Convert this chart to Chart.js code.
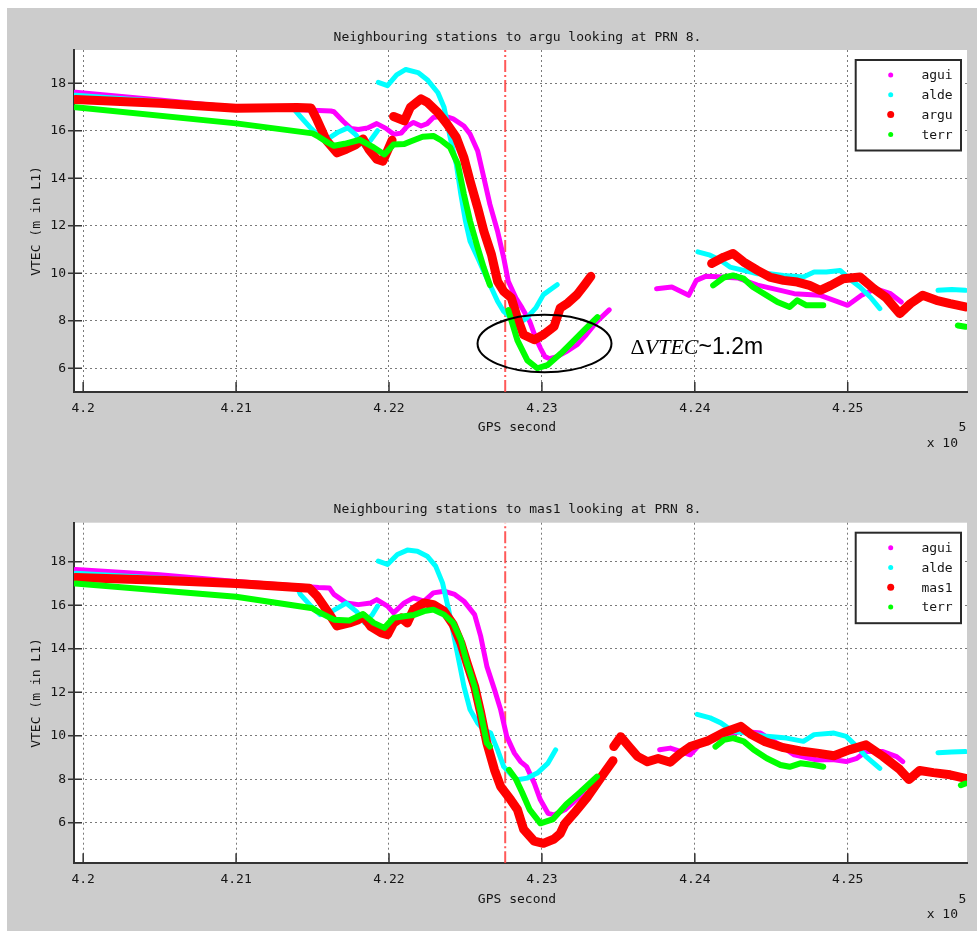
<!DOCTYPE html>
<html>
<head>
<meta charset="utf-8">
<title>Neighbouring stations VTEC, PRN 8</title>
<script src="https://cdn.jsdelivr.net/npm/chart.js@4.4.1/dist/chart.umd.min.js"></script>
<style>
  html, body { margin: 0; padding: 0; background: #ffffff; }
  #frame { position: absolute; left: 7px; top: 8px; width: 970px; height: 923px; background: #cccccc; }
  canvas { position: absolute; left: 0; }
  #argu { top: 0; }
  #mas1 { top: 465px; }
</style>
</head>
<body>
<div id="frame"></div>
<canvas id="argu" width="977" height="465"></canvas>
<canvas id="mas1" width="977" height="466"></canvas>
<script>
// axis setup (GPS seconds, labels shown in units of 1e5)
const X_MIN = 419940;
const X_MAX = 425780;
const X_TICKS = [420000, 421000, 422000, 423000, 424000, 425000];
const X_TICK_LABELS = ['4.2', '4.21', '4.22', '4.23', '4.24', '4.25'];
const Y_TICKS = [6, 8, 10, 12, 14, 16, 18];

// time of the event marker (dash-dot line)
const EVENT_TIME = 422760;

// [GPS second, VTEC] - null means no data
// --- argu panel ---
const arguAgui = [[419950,17.62],[420500,17.3],[421000,16.98],[421500,16.86],[421620,16.83],[421640,16.8],[421700,16.4],[421750,16.1],[421800,16.05],[421860,16.12],[421920,16.3],[421980,16.1],[422030,15.85],[422080,15.9],[422120,16.2],[422160,16.35],[422210,16.2],[422250,16.3],[422290,16.56],[422360,16.63],[422420,16.5],[422490,16.2],[422530,15.86],[422580,15.15],[422620,14.03],[422660,12.9],[422710,11.77],[422750,10.65],[422780,9.66],[422830,8.96],[422870,8.54],[422920,7.97],[422960,7.27],[422990,6.85],[423020,6.49],[423050,6.4],[423100,6.49],[423160,6.7],[423230,6.99],[423290,7.41],[423360,7.97],[423440,8.46],[423600,null],[423750,9.35],[423850,9.42],[423960,9.07],[424010,9.7],[424070,9.87],[424150,9.85],[424280,9.8],[424410,9.5],[424560,9.28],[424650,9.14],[424820,9.07],[424910,8.86],[425000,8.65],[425090,9.07],[425180,9.35],[425280,9.14],[425350,8.79]];
const arguAlde = [[419950,17.5],[421000,17.0],[421380,16.9],[421420,16.6],[421490,16.1],[421550,15.72],[421610,15.7],[421670,15.95],[421730,16.12],[421780,15.85],[421840,15.35],[421880,15.6],[421925,16.0],[421928,null],[421930,18.04],[421990,17.9],[422050,18.35],[422110,18.58],[422190,18.45],[422250,18.15],[422320,17.6],[422360,16.99],[422400,15.72],[422440,14.6],[422470,13.32],[422500,12.2],[422530,11.35],[422580,10.65],[422620,10.08],[422670,9.38],[422710,8.82],[422750,8.39],[422800,8.11],[422850,7.9],[422900,8.11],[422960,8.54],[423010,9.1],[423070,9.38],[423100,9.52],[423500,null],[424020,10.9],[424100,10.76],[424170,10.54],[424230,10.26],[424320,10.12],[424410,9.98],[424490,9.98],[424580,9.91],[424710,9.84],[424780,10.05],[424860,10.05],[424950,10.12],[425010,9.77],[425080,9.42],[425150,8.98],[425210,8.51],[425400,null],[425590,9.28],[425680,9.32],[425770,9.28]];
const arguArgu = [[419950,17.32],[420500,17.16],[421000,16.95],[421400,16.98],[421490,16.96],[421530,16.45],[421590,15.6],[421660,15.07],[421720,15.22],[421780,15.4],[421830,15.65],[421870,15.2],[421920,14.8],[421960,14.72],[421990,15.15],[422020,15.6],[422025,null],[422030,16.6],[422100,16.42],[422140,16.99],[422210,17.34],[422250,17.2],[422320,16.77],[422380,16.28],[422440,15.72],[422490,14.87],[422530,13.89],[422580,12.76],[422620,11.77],[422670,10.79],[422710,9.66],[422750,9.24],[422800,8.96],[422840,8.11],[422880,7.41],[422950,7.2],[423010,7.41],[423080,7.76],[423120,8.54],[423170,8.75],[423230,9.1],[423280,9.52],[423320,9.87],[423700,null],[424110,10.41],[424190,10.68],[424250,10.83],[424320,10.47],[424410,10.12],[424490,9.84],[424580,9.7],[424670,9.63],[424750,9.49],[424820,9.28],[424890,9.49],[424970,9.77],[425080,9.84],[425170,9.35],[425250,8.98],[425340,8.3],[425410,8.72],[425490,9.07],[425580,8.86],[425670,8.72],[425770,8.58]];
const arguTerr = [[419950,16.99],[421000,16.31],[421500,15.89],[421530,15.79],[421600,15.5],[421640,15.37],[421710,15.45],[421810,15.62],[421900,15.3],[421970,15.0],[422030,15.42],[422100,15.44],[422140,15.55],[422220,15.75],[422290,15.78],[422340,15.6],[422400,15.3],[422450,14.6],[422490,13.32],[422530,12.2],[422580,11.07],[422620,10.23],[422660,9.5],[422720,null],[422780,8.45],[422840,7.17],[422905,6.33],[422970,6.0],[423036,6.13],[423123,6.62],[423210,7.17],[423275,7.59],[423363,8.15],[423700,null],[424120,9.49],[424190,9.82],[424250,9.91],[424320,9.77],[424380,9.42],[424470,9.07],[424540,8.79],[424620,8.58],[424670,8.86],[424730,8.65],[424840,8.65],[425300,null],[425720,7.8],[425770,7.75]];

// --- mas1 panel ---
const mas1Agui = [[419950,17.65],[420500,17.4],[421000,17.1],[421540,16.82],[421610,16.8],[421640,16.5],[421720,16.11],[421800,16.03],[421880,16.11],[421920,16.26],[421990,15.96],[422030,15.65],[422100,16.11],[422160,16.34],[422230,16.19],[422290,16.57],[422360,16.65],[422430,16.5],[422490,16.19],[422560,15.57],[422600,14.57],[422640,13.19],[422690,12.12],[422730,11.2],[422770,9.97],[422820,9.2],[422860,8.81],[422900,8.58],[422950,7.82],[422990,7.05],[423040,6.43],[423080,6.36],[423150,6.59],[423210,6.97],[423275,7.36],[423500,null],[423770,9.35],[423840,9.43],[423910,9.27],[423970,9.12],[424040,9.66],[424100,9.9],[424200,10.0],[424300,10.2],[424430,10.12],[424550,9.6],[424650,9.12],[424800,8.88],[424900,8.9],[424990,8.81],[425060,8.96],[425120,9.27],[425230,9.27],[425320,9.04],[425360,8.81]];
const mas1Alde = [[419950,17.47],[421000,17.05],[421400,16.85],[421420,16.5],[421490,15.96],[421550,15.57],[421620,15.7],[421720,16.1],[421790,15.7],[421840,15.2],[421890,15.55],[421925,15.96],[421928,null],[421930,18.03],[421990,17.88],[422055,18.34],[422120,18.54],[422186,18.49],[422250,18.26],[422305,17.8],[422350,17.03],[422390,15.8],[422425,14.57],[422460,13.35],[422490,12.27],[422530,11.2],[422580,10.58],[422620,10.27],[422665,10.12],[422710,9.35],[422750,8.58],[422800,8.2],[422840,7.97],[422905,8.05],[422970,8.28],[423040,8.74],[423090,9.35],[423500,null],[424016,10.98],[424100,10.82],[424170,10.59],[424250,10.2],[424340,10.12],[424470,9.97],[424600,9.89],[424710,9.74],[424780,10.05],[424910,10.12],[424990,9.97],[425060,9.5],[425120,9.04],[425210,8.5],[425400,null],[425590,9.22],[425680,9.25],[425770,9.27]];
const mas1Mas1 = [[419950,17.28],[420500,17.15],[421000,17.0],[421480,16.78],[421530,16.42],[421600,15.7],[421660,15.05],[421740,15.19],[421800,15.34],[421830,15.5],[421880,15.03],[421950,14.73],[421990,14.65],[422030,15.19],[422080,15.42],[422120,15.19],[422160,15.8],[422230,16.11],[422290,16.03],[422360,15.73],[422420,15.11],[422470,14.27],[422510,13.35],[422560,12.27],[422600,11.04],[422640,9.66],[422690,8.43],[422730,7.66],[422796,7.05],[422840,6.6],[422880,5.7],[422950,5.15],[423010,5.05],[423080,5.25],[423120,5.5],[423150,5.95],[423210,6.43],[423300,7.2],[423390,8.12],[423465,8.85],[423468,null],[423470,9.5],[423515,9.95],[423570,9.5],[423625,9.05],[423690,8.8],[423760,8.95],[423840,8.78],[423900,9.15],[423970,9.5],[424080,9.75],[424190,10.15],[424300,10.43],[424370,10.05],[424460,9.72],[424580,9.45],[424690,9.3],[424800,9.2],[424910,9.08],[425010,9.35],[425120,9.58],[425230,9.05],[425340,8.45],[425400,7.98],[425470,8.4],[425560,8.3],[425670,8.2],[425770,8.04]];
const mas1Terr = [[419950,17.0],[421000,16.39],[421500,15.86],[421530,15.73],[421600,15.48],[421640,15.34],[421740,15.3],[421830,15.6],[421900,15.19],[421970,14.96],[422030,15.42],[422100,15.5],[422160,15.55],[422230,15.73],[422290,15.8],[422360,15.57],[422420,15.19],[422470,14.42],[422510,13.35],[422560,12.27],[422600,11.04],[422640,9.66],[422660,9.5],[422720,null],[422785,8.43],[422830,8.0],[422870,7.4],[422920,6.6],[422990,5.97],[423070,6.15],[423160,6.85],[423250,7.4],[423360,8.12],[423700,null],[424135,9.5],[424190,9.81],[424250,9.89],[424320,9.74],[424385,9.35],[424470,8.96],[424560,8.65],[424620,8.57],[424690,8.73],[424780,8.65],[424840,8.57],[425300,null],[425740,7.72],[425770,7.8]];

// styling
const MONO = '"DejaVu Sans Mono", monospace';
const TEXT_COLOR = '#151515';
const GRID_COLOR = '#7a7a7a';
const AXIS_COLOR = '#333333';
const STATION_STYLE = {
    agui: { color: '#ff00ff', width: 5 },
    alde: { color: '#00ffff', width: 5 },
    terr: { color: '#00ff00', width: 6 },
    ref:  { color: '#ff0000', width: 9 }
};

const panels = [
    {
        canvas: 'argu',
        title: 'Neighbouring stations to argu looking at PRN 8.',
        yMin: 5, yMax: 19.4,
        padding: { left: 0, top: 50, right: 10, bottom: 43 },
        series: [
            { name: 'agui', data: arguAgui, style: STATION_STYLE.agui },
            { name: 'alde', data: arguAlde, style: STATION_STYLE.alde },
            { name: 'argu', data: arguArgu, style: STATION_STYLE.ref },
            { name: 'terr', data: arguTerr, style: STATION_STYLE.terr }
        ],
        // ellipse around the minima and the delta label
        note: { t: 423017, v: 7.04, dt: 438, dv: 1.21, textT: 423580, textV: 6.58 }
    },
    {
        canvas: 'mas1',
        title: 'Neighbouring stations to mas1 looking at PRN 8.',
        yMin: 4.13, yMax: 19.8,
        padding: { left: 0, top: 57.7, right: 10, bottom: 37.7 },
        series: [
            { name: 'agui', data: mas1Agui, style: STATION_STYLE.agui },
            { name: 'alde', data: mas1Alde, style: STATION_STYLE.alde },
            { name: 'mas1', data: mas1Mas1, style: STATION_STYLE.ref },
            { name: 'terr', data: mas1Terr, style: STATION_STYLE.terr }
        ],
        note: null
    }
];

function toPoints(series) {
    return series.map(([t, v]) => ({ x: t, y: v }));
}

function buildDatasets(panel) {
    const n = panel.series.length;
    const sets = panel.series.map((s, i) => ({
        label: s.name,
        data: toPoints(s.data),
        borderColor: s.style.color,
        backgroundColor: s.style.color,
        borderWidth: s.style.width,
        borderCapStyle: 'round',
        borderJoinStyle: 'round',
        pointRadius: 0,
        spanGaps: false,
        order: n - i   // last station ends up on top
    }));
    // vertical dash-dot event line
    sets.push({
        label: '',
        data: [{ x: EVENT_TIME, y: panel.yMin }, { x: EVENT_TIME, y: panel.yMax }],
        borderColor: 'rgba(255, 60, 60, 0.85)',
        borderWidth: 2,
        borderDash: [12, 3, 2, 3],
        pointRadius: 0,
        order: 10
    });
    return sets;
}

function drawTickMarks(chart) {
    const { ctx, chartArea: ca, scales } = chart;
    ctx.save();
    ctx.strokeStyle = AXIS_COLOR;
    ctx.lineWidth = 1.5;
    ctx.beginPath();
    X_TICKS.forEach(t => {
        const x = scales.x.getPixelForValue(t);
        ctx.moveTo(x, ca.bottom);
        ctx.lineTo(x, ca.bottom - 10);
    });
    Y_TICKS.forEach(v => {
        const y = scales.y.getPixelForValue(v);
        ctx.moveTo(ca.left - 6, y);
        ctx.lineTo(ca.left + 8, y);
    });
    ctx.stroke();
    ctx.restore();
}

function drawLabels(chart, panel) {
    const { ctx, chartArea: ca } = chart;
    ctx.save();
    ctx.fillStyle = TEXT_COLOR;
    ctx.font = '13px ' + MONO;
    ctx.textAlign = 'center';
    ctx.textBaseline = 'middle';
    ctx.fillText(panel.title, 517.5, ca.top - 12.7);
    ctx.fillText('GPS second', 517, ca.bottom + 36);

    // axis multiplier "x 10^5"
    ctx.textAlign = 'right';
    ctx.fillText('x 10', 958, ca.bottom + 51.5);
    ctx.textAlign = 'left';
    ctx.fillText('5', 958.5, ca.bottom + 36);

    ctx.translate(36.5, (ca.top + ca.bottom) / 2);
    ctx.rotate(-Math.PI / 2);
    ctx.textAlign = 'center';
    ctx.fillText('VTEC (m in L1)', 0, 0);
    ctx.restore();
}

function drawLegend(chart, panel) {
    const { ctx, chartArea: ca } = chart;
    const box = { left: ca.right - 111.3, top: ca.top + 10, width: 105.3, height: 90.5 };
    ctx.save();
    ctx.fillStyle = '#ffffff';
    ctx.fillRect(box.left, box.top, box.width, box.height);
    ctx.strokeStyle = '#2a2a2a';
    ctx.lineWidth = 2;
    ctx.strokeRect(box.left, box.top, box.width, box.height);

    ctx.font = '13px ' + MONO;
    ctx.textAlign = 'right';
    ctx.textBaseline = 'middle';
    panel.series.forEach((s, i) => {
        const y = ca.top + 25 + i * 19.8;
        ctx.fillStyle = s.style.color;
        ctx.beginPath();
        ctx.arc(box.left + 35, y, s.style.width > 6 ? 3.5 : 2.5, 0, Math.PI * 2);
        ctx.fill();
        ctx.fillStyle = TEXT_COLOR;
        ctx.fillText(s.name, box.left + 97, y + 1);
    });
    ctx.restore();
}

function drawNote(chart, note) {
    const { ctx, scales } = chart;
    const cx = scales.x.getPixelForValue(note.t);
    const cy = scales.y.getPixelForValue(note.v);
    const rx = scales.x.getPixelForValue(note.t + note.dt) - cx;
    const ry = cy - scales.y.getPixelForValue(note.v + note.dv);
    ctx.save();
    ctx.strokeStyle = '#000000';
    ctx.lineWidth = 2;
    ctx.beginPath();
    ctx.ellipse(cx, cy, rx, ry, 0, 0, Math.PI * 2);
    ctx.stroke();

    // ΔVTEC~1.2m
    let x = scales.x.getPixelForValue(note.textT);
    const y = scales.y.getPixelForValue(note.textV);
    ctx.fillStyle = '#000000';
    ctx.textAlign = 'left';
    ctx.textBaseline = 'alphabetic';
    const parts = [
        ['Δ', '22px "Liberation Serif", serif'],
        ['VTEC', 'italic 22px "Liberation Serif", serif'],
        ['~1.2m', '23px "Liberation Sans", sans-serif']
    ];
    parts.forEach(([txt, font]) => {
        ctx.font = font;
        ctx.fillText(txt, x, y);
        x += ctx.measureText(txt).width;
    });
    ctx.restore();
}

function makePanel(panel) {
    const decor = {
        id: 'decor',
        beforeDraw(chart) {
            const { ctx, chartArea: ca } = chart;
            ctx.save();
            ctx.fillStyle = '#ffffff';
            ctx.fillRect(ca.left, ca.top, ca.right - ca.left, ca.bottom - ca.top);
            ctx.restore();
        },
        afterDraw(chart) {
            drawTickMarks(chart);
            drawLabels(chart, panel);
            drawLegend(chart, panel);
            if (panel.note) drawNote(chart, panel.note);
        }
    };

    const tickFont = { family: MONO, size: 13, lineHeight: 1.2 };

    return new Chart(document.getElementById(panel.canvas), {
        type: 'line',
        data: { datasets: buildDatasets(panel) },
        options: {
            responsive: false,
            devicePixelRatio: 1,
            animation: false,
            layout: { padding: panel.padding },
            plugins: {
                legend: { display: false },
                tooltip: { enabled: false }
            },
            scales: {
                x: {
                    type: 'linear',
                    min: X_MIN,
                    max: X_MAX,
                    afterBuildTicks: s => { s.ticks = X_TICKS.map(v => ({ value: v })); },
                    afterFit: s => { s.height = 30; s.paddingLeft = 0; s.paddingRight = 0; },
                    ticks: {
                        callback: v => X_TICK_LABELS[X_TICKS.indexOf(v)],
                        font: tickFont,
                        color: TEXT_COLOR,
                        padding: 9,
                        maxRotation: 0,
                        autoSkip: false
                    },
                    grid: { color: GRID_COLOR, lineWidth: 1, drawTicks: false },
                    border: { display: true, color: AXIS_COLOR, width: 2, dash: [2, 3] }
                },
                y: {
                    type: 'linear',
                    min: panel.yMin,
                    max: panel.yMax,
                    afterBuildTicks: s => { s.ticks = Y_TICKS.map(v => ({ value: v })); },
                    afterFit: s => { s.width = 74; s.paddingTop = 0; s.paddingBottom = 0; },
                    ticks: { font: tickFont, color: TEXT_COLOR, padding: 8 },
                    grid: { color: GRID_COLOR, lineWidth: 1, drawTicks: false },
                    border: { display: true, color: AXIS_COLOR, width: 2, dash: [2, 3] }
                }
            }
        },
        plugins: [decor]
    });
}

panels.forEach(makePanel);
</script>
</body>
</html>
